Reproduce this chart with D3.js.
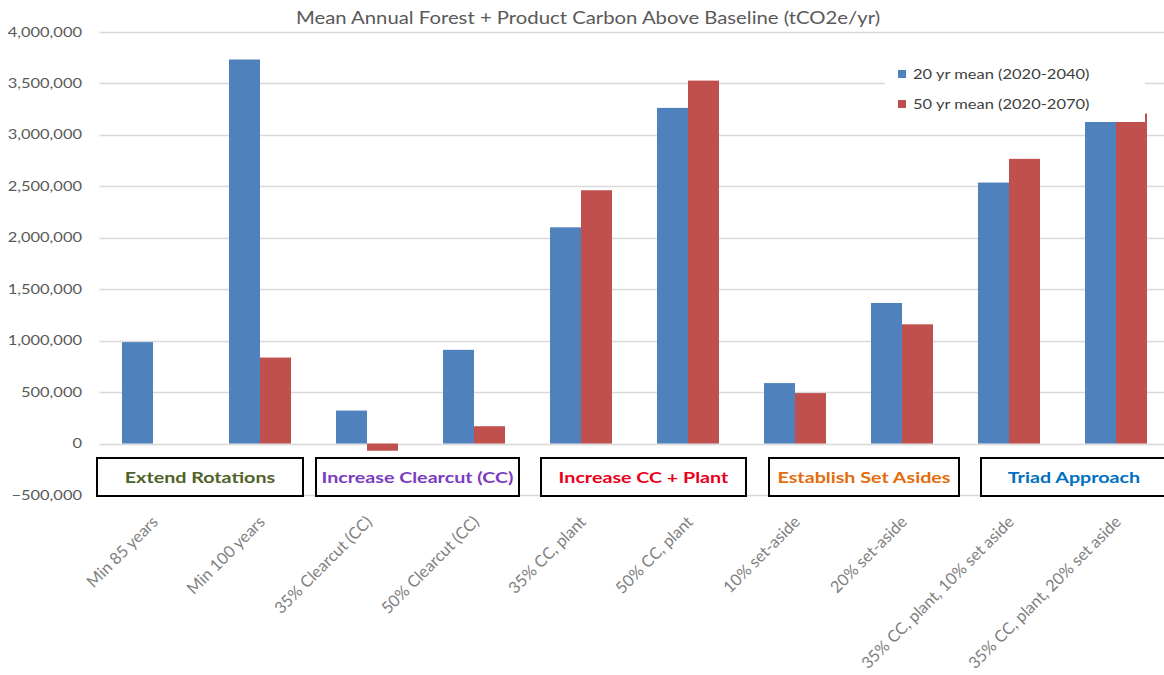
<!DOCTYPE html>
<html>
<head>
<meta charset="utf-8">
<script src="https://cdn.jsdelivr.net/npm/d3@7"></script>
<style>
  html, body { margin: 0; padding: 0; background: #fff; }
  svg { display: block; font-family: Lato, "Open Sans", sans-serif; }
</style>
</head>
<body>
<svg id="chart" width="1164" height="675"></svg>
<script>
// Scenario names (x categories)
const categories = [
  "Min 85 years", "Min 100 years",
  "35% Clearcut (CC)", "50% Clearcut (CC)",
  "35% CC, plant", "50% CC, plant",
  "10% set-aside", "20% set-aside",
  "35% CC, plant, 10% set aside", "35% CC, plant, 20% set aside"
];

// Series names
const seriesNames = ["20 yr mean (2020-2040)", "50 yr mean (2020-2070)"];

// Mean annual carbon above baseline, tCO2e/yr
const mean20yr = [985000, 3730000, 320000, 910000, 2100000, 3260000, 587000, 1365000, 2535000, 3125000];
const mean50yr = [0, 835000, -70000, 168000, 2460000, 3525000, 490000, 1158000, 2765000, 3205000];

// Y axis ticks
const yTicks = [-500000, 0, 500000, 1000000, 1500000, 2000000, 2500000, 3000000, 3500000, 4000000];

// Strategy groups, each covering two consecutive scenarios
const groupLabels = ["Extend Rotations", "Increase Clearcut (CC)", "Increase CC + Plant", "Establish Set Asides", "Triad Approach"];

const title = "Mean Annual Forest + Product Carbon Above Baseline (tCO2e/yr)";

// ---- styling / layout ----
const seriesColors = ["#4f81bd", "#c0504d"];
const groupColors = ["#4f6228", "#7a3cc0", "#e8001c", "#e46c0a", "#0070c0"];
// hand-placed text boxes: [left inset, right inset] relative to the two-category span
const groupInsets = [[-2.5, -10.5], [2.5, -8.5], [13.5, 4.5], [27.5, 3.5], [25.5, -2.5]];
const gridColor = "#d9d9d9";
const axisText = "#595959";
const stretch = 1.22;   // text is drawn slightly wide

const svg = d3.select("#chart");
const plotLeft = 99.5, plotRight = 1169.5;

const x = d3.scaleBand().domain(categories).range([plotLeft, plotRight]).paddingInner(0).paddingOuter(0);
const xs = d3.scaleBand().domain(seriesNames).range([0, x.bandwidth()]).paddingInner(0).paddingOuter(0.726);
const y = d3.scaleLinear().domain([-500000, 4000000]).range([495, 31.7]);

function widen(sel, k) {
  sel.each(function () {
    const len = this.getComputedTextLength();
    d3.select(this).attr("textLength", len * k).attr("lengthAdjust", "spacingAndGlyphs");
  });
}

// Title
svg.append("text")
  .attr("x", 588).attr("y", 24)
  .attr("text-anchor", "middle")
  .attr("font-size", 16.5)
  .attr("fill", axisText)
  .text(title)
  .call(widen, 1.23);

// Gridlines
svg.append("g").selectAll("line").data(yTicks).join("line")
  .attr("x1", plotLeft).attr("x2", 1164)
  .attr("y1", d => Math.round(y(d)) + 0.5).attr("y2", d => Math.round(y(d)) + 0.5)
  .attr("stroke", gridColor).attr("stroke-width", 1.5);

// Y axis labels
const yAxis = d3.axisLeft(y).tickValues(yTicks).tickSize(0).tickPadding(0)
  .tickFormat(d3.format(","));
const yg = svg.append("g").attr("transform", `translate(82,0)`).call(yAxis);
yg.select(".domain").remove();
yg.selectAll("text").attr("font-size", 13.5).attr("fill", axisText)
  .attr("font-family", "Lato, sans-serif")
  .call(widen, stretch);

// Bars
const rows = categories.map((c, i) => ({ c, vals: [mean20yr[i], mean50yr[i]] }));
const barG = svg.append("g");
rows.forEach(r => {
  r.vals.forEach((v, k) => {
    barG.append("rect")
      .attr("x", x(r.c) + xs(seriesNames[k]))
      .attr("width", xs.bandwidth())
      .attr("y", y(Math.max(0, v)))
      .attr("height", Math.abs(y(v) - y(0)))
      .attr("fill", seriesColors[k]);
  });
});

// Legend (opaque background box)
const lg = svg.append("g");
lg.append("rect").attr("x", 885).attr("y", 50).attr("width", 260).attr("height", 72).attr("fill", "#fff");
seriesNames.forEach((s, k) => {
  const cy = 74 + k * 30;
  lg.append("rect").attr("x", 898).attr("y", cy - 4).attr("width", 8).attr("height", 8).attr("fill", seriesColors[k]);
  lg.append("text").attr("x", 913).attr("y", cy + 5)
    .attr("font-size", 13.5).attr("fill", "#404040").text(s)
    .call(widen, stretch);
});

// Strategy group boxes
groupLabels.forEach((g, i) => {
  const left = x(categories[2 * i]) + groupInsets[i][0];
  const right = x(categories[2 * i + 1]) + x.bandwidth() + groupInsets[i][1];
  svg.append("rect")
    .attr("x", left).attr("y", 458)
    .attr("width", right - left).attr("height", 38)
    .attr("fill", "#fff").attr("stroke", "#000").attr("stroke-width", 2);
  svg.append("text")
    .attr("x", (left + right) / 2).attr("y", 483)
    .attr("text-anchor", "middle")
    .attr("font-size", 16).attr("font-weight", "bold")
    .attr("fill", groupColors[i]).text(g)
    .call(widen, 1.23);
});

// Rotated category labels
svg.append("g").selectAll("text").data(categories).join("text")
  .attr("transform", d => `translate(${x(d) + x.bandwidth() / 2 + 6},${523}) rotate(-45)`)
  .attr("text-anchor", "end")
  .attr("font-size", 16.3)
  .attr("fill", "#7f7f7f")
  .text(d => d);
</script>
</body>
</html>
